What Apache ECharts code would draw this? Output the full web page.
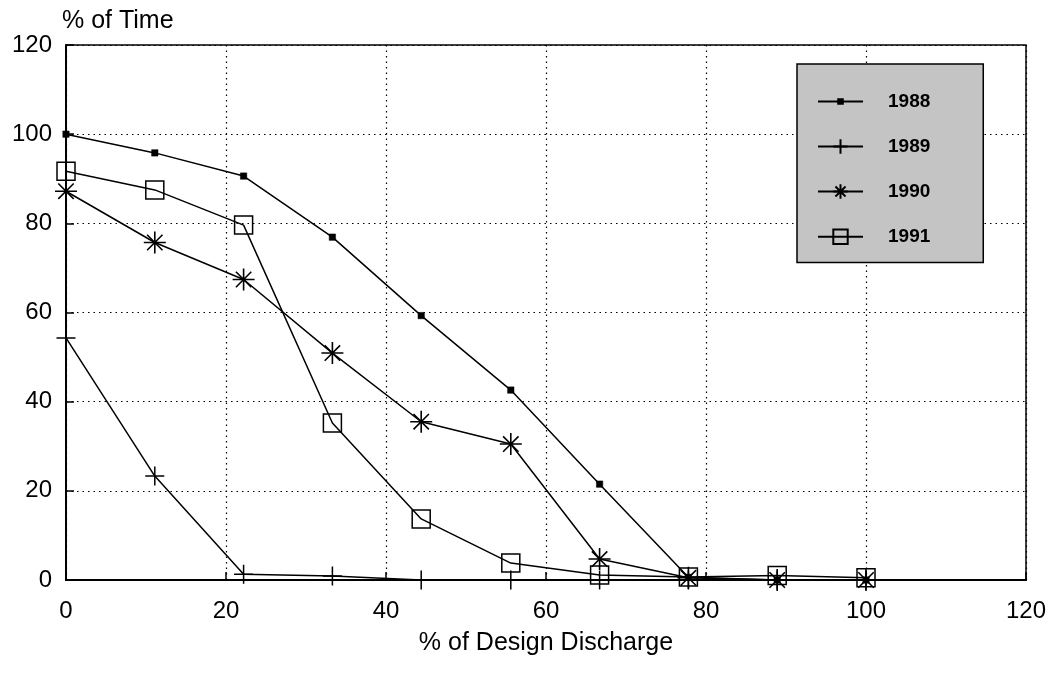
<!DOCTYPE html>
<html>
<head>
<meta charset="utf-8">
<script src="https://cdn.jsdelivr.net/npm/echarts@6/dist/echarts.min.js"></script>
<style>
html,body{margin:0;padding:0;background:#fff;}
#chart{width:1058px;height:673px;}
</style>
</head>
<body>
<div id="chart"></div>
<script>
const discharge = [0, 11.1, 22.2, 33.3, 44.4, 55.6, 66.7, 77.8, 88.9, 100];
const y1988 = [100, 95.8, 90.6, 76.9, 59.3, 42.6, 21.5, 0.6, 0, 0];
const y1989 = [54.3, 23.3, 1.3, 0.9, 0, 0, 0, 0, 0, 0];
const y1990 = [87.2, 75.7, 67.4, 50.9, 35.5, 30.5, 4.7, 0.5, 0, 0];
const y1991 = [91.7, 87.5, 79.6, 35.2, 13.7, 3.8, 1.1, 0.7, 1, 0.5];
const seriesNames = ['1988', '1989', '1990', '1991'];
const xTicks = [0, 20, 40, 60, 80, 100, 120];
const yTicks = [0, 20, 40, 60, 80, 100, 120];

const FONT = 'Liberation Sans, Arial, Helvetica, sans-serif';
const pair = (ys) => discharge.map((x, i) => [x, ys[i]]);

const symDot = 'path://M-5,-5M5,5M-1.6,-1.6L1.6,-1.6L1.6,1.6L-1.6,1.6Z';
const symPlus = 'path://M0,-1L0,1M-1,0L1,0';
const symStar = 'path://M0,-1L0,1M-1,0L1,0M-0.7,-0.7L0.7,0.7M-0.7,0.7L0.7,-0.7';
const symSquare = 'path://M-1,-1L1,-1L1,1L-1,1Z';

const base = {
  type: 'line',
  lineStyle: { color: '#000', width: 1.5 },
  emphasis: { disabled: true },
  animation: false,
  z: 3
};

const chart = echarts.init(document.getElementById('chart'), null, { renderer: 'canvas' });
chart.setOption({
  backgroundColor: '#fff',
  animation: false,
  grid: {
    left: 66, right: 32, top: 45, bottom: 93,
    show: true, borderColor: '#000', borderWidth: 1.5, backgroundColor: 'transparent'
  },
  xAxis: {
    type: 'value', min: xTicks[0], max: xTicks[xTicks.length - 1], interval: 20,
    name: '% of Design Discharge', nameLocation: 'middle', nameGap: 51,
    nameTextStyle: { fontFamily: FONT, fontSize: 25, color: '#000' },
    axisLine: { show: true, lineStyle: { color: '#000', width: 2 } },
    axisTick: { show: true, inside: true, length: 8, lineStyle: { color: '#000', width: 1.5 } },
    axisLabel: { fontFamily: FONT, fontSize: 24, color: '#000', margin: 19 },
    splitLine: { show: true, lineStyle: { color: '#000', width: 1.2, type: [1.5, 4] } }
  },
  yAxis: {
    type: 'value', min: yTicks[0], max: yTicks[yTicks.length - 1], interval: 20,
    name: '% of Time', nameLocation: 'end', nameGap: 24,
    nameTextStyle: { fontFamily: FONT, fontSize: 25, color: '#000', align: 'left', verticalAlign: 'middle', padding: [0, 0, 0, -4] },
    axisLine: { show: true, lineStyle: { color: '#000', width: 2 } },
    axisTick: { show: true, inside: true, length: 8, lineStyle: { color: '#000', width: 1.5 } },
    axisLabel: { fontFamily: FONT, fontSize: 24, color: '#000', margin: 14 },
    splitLine: { show: true, lineStyle: { color: '#000', width: 1.2, type: [1.5, 4] } }
  },
  legend: {
    orient: 'vertical', left: 797, top: 64,
    backgroundColor: '#c4c4c4', borderColor: '#000', borderWidth: 1.5,
    padding: [28, 53, 16, 20],
    itemWidth: 45, itemHeight: 18, itemGap: 26,
    textStyle: { fontFamily: FONT, fontSize: 19, fontWeight: 'bold', color: '#000', padding: [0, 0, 0, 20] },
    data: seriesNames,
    selectedMode: false
  },
  series: [
    Object.assign({}, base, {
      name: seriesNames[0], data: pair(y1988), symbol: symDot, symbolSize: 20,
      itemStyle: { color: '#000', borderColor: '#000', borderWidth: 0.5 }
    }),
    Object.assign({}, base, {
      name: seriesNames[1], data: pair(y1989), symbol: symPlus, symbolSize: 19,
      itemStyle: { color: '#000', borderColor: '#000', borderWidth: 1.5 }
    }),
    Object.assign({}, base, {
      name: seriesNames[2], data: pair(y1990), symbol: symStar, symbolSize: 22,
      itemStyle: { color: '#000', borderColor: '#000', borderWidth: 1.6 }
    }),
    Object.assign({}, base, {
      name: seriesNames[3], data: pair(y1991), symbol: symSquare, symbolSize: 18,
      itemStyle: { color: 'none', borderColor: '#000', borderWidth: 1.5 }
    })
  ]
});
</script>
</body>
</html>
